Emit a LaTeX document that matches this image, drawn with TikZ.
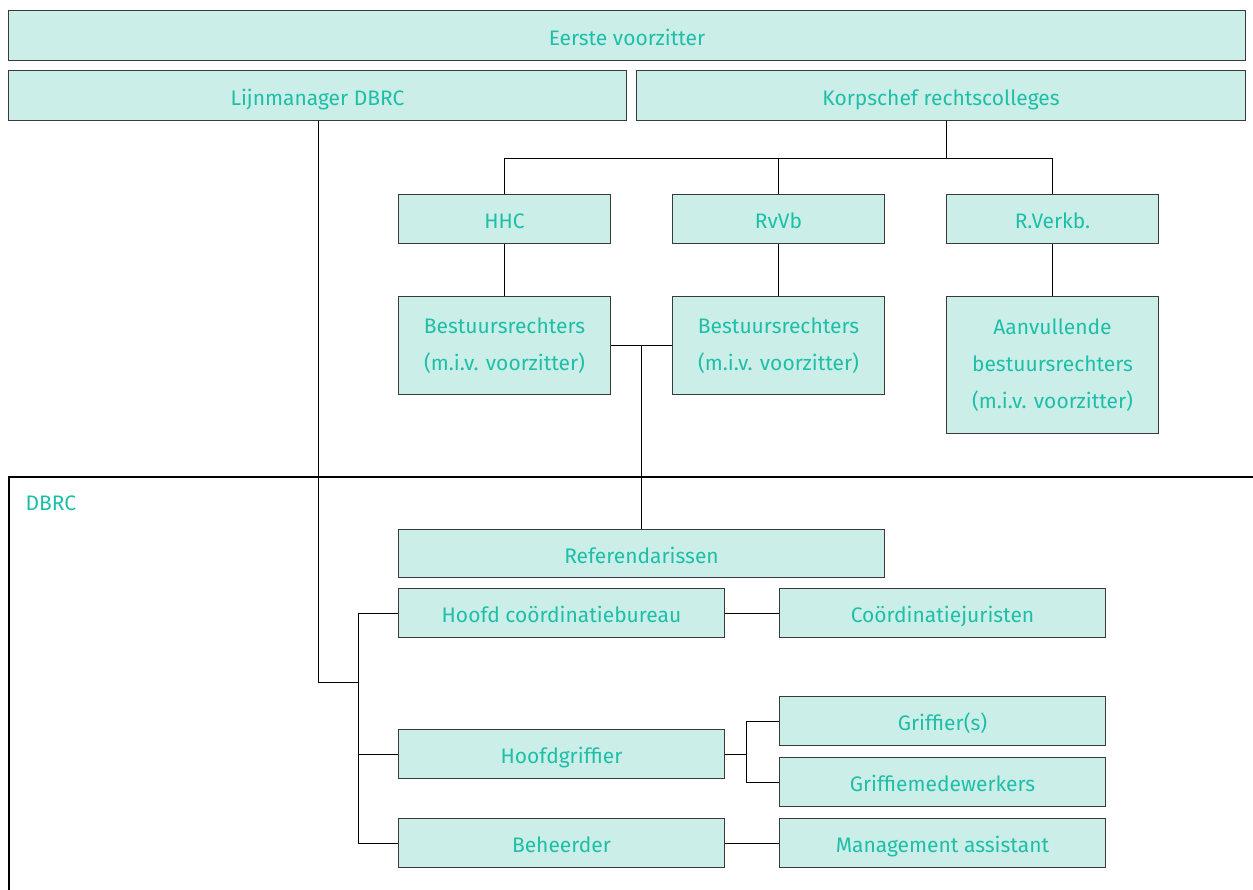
\documentclass[tikz,border=0pt]{standalone}
\usepackage{fontspec}
\setmainfont{Fira Sans}
\definecolor{boxfill}{HTML}{CCEEE8}
\definecolor{boxtext}{HTML}{1DBFA8}
\definecolor{boxline}{HTML}{3A3A3A}
\begin{document}
\begin{tikzpicture}[x=1pt,y=-1pt,
  box/.style={draw=boxline,line width=1pt,fill=boxfill,text=boxtext,inner sep=0pt,anchor=north west,align=center,font=\fontsize{21}{37}\selectfont},
  one/.style={box,text height=26pt,text depth=7pt},
  conn/.style={draw=black,line width=0.9pt}]
\useasboundingbox (0,0) rectangle (1253,889);
% DBRC frame
\draw[line width=2.2pt] (1260,477) -- (9,477) -- (9,895);
\node[text=boxtext,anchor=west,font=\fontsize{21}{24}\selectfont] (dbrclab) at (22,503) {DBRC};
% boxes
\node[one,minimum width=1237pt,minimum height=50pt] (eerste) at (8,10) {Eerste voorzitter};
\node[one,minimum width=618pt,minimum height=50pt] (lijn) at (8,70) {Lijnmanager DBRC};
\node[one,minimum width=609pt,minimum height=50pt] (korps) at (636,70) {Korpschef rechtscolleges};
\node[one,minimum width=212pt,minimum height=49pt] (hhc) at (398,194) {HHC};
\node[one,minimum width=212pt,minimum height=49pt] (rvvb) at (672,194) {RvVb};
\node[one,minimum width=212pt,minimum height=49pt] (rverk) at (946,194) {R.Verkb.};
\node[box,minimum width=212pt,minimum height=98pt] (best1) at (398,296) {Bestuursrechters\\(m.i.v. voorzitter)};
\node[box,minimum width=212pt,minimum height=98pt] (best2) at (672,296) {Bestuursrechters\\(m.i.v. voorzitter)};
\node[box,minimum width=212pt,minimum height=137pt] (aanv) at (946,296) {Aanvullende\\bestuursrechters\\(m.i.v. voorzitter)};
\node[one,minimum width=486pt,minimum height=48pt] (ref) at (398,529) {Referendarissen};
\node[one,minimum width=326pt,minimum height=49pt] (hoofdc) at (398,588) {Hoofd coördinatiebureau};
\node[one,minimum width=326pt,minimum height=49pt] (coord) at (779,588) {Coördinatiejuristen};
\node[one,minimum width=326pt,minimum height=49pt] (hgrif) at (398,729) {Hoofdgriffier};
\node[one,minimum width=326pt,minimum height=49pt] (grif) at (779,696) {Griffier(s)};
\node[one,minimum width=326pt,minimum height=49pt] (grifm) at (779,757) {Griffiemedewerkers};
\node[one,minimum width=326pt,minimum height=49pt] (beh) at (398,818) {Beheerder};
\node[one,minimum width=326pt,minimum height=49pt] (mgmt) at (779,818) {Management assistant};
% coordinates
\coordinate (kb) at (946,158);
\coordinate (bm) at (641,345);
\coordinate (lj) at (318,682);
\coordinate (sp) at (358,682);
\coordinate (gs) at (746,753);
% connectors
\draw[conn] (korps.south -| kb) -- (kb);
\draw[conn] (hhc.north) -- (hhc.north |- kb) -- (rverk.north |- kb) -- (rverk.north);
\draw[conn] (rvvb.north) -- (rvvb.north |- kb);
\draw[conn] (hhc) -- (best1);
\draw[conn] (rvvb) -- (best2);
\draw[conn] (rverk.south) -- (rverk.south |- aanv.north);
\draw[conn] (best1.east |- bm) -- (best2.west |- bm);
\draw[conn] (bm) -- (bm |- ref.north);
\draw[conn] (lijn.south -| lj) -- (lj) -- (sp);
\draw[conn] (hoofdc.west) -- (hoofdc.west -| sp) -- (beh.west -| sp) -- (beh.west);
\draw[conn] (hgrif.west) -- (hgrif.west -| sp);
\draw[conn] (hoofdc) -- (coord);
\draw[conn] (beh) -- (mgmt);
\draw[conn] (hgrif.east) -- (hgrif.east -| gs);
\draw[conn] (grif.west) -- (grif.west -| gs) -- (grifm.west -| gs) -- (grifm.west);
\end{tikzpicture}
\end{document}
